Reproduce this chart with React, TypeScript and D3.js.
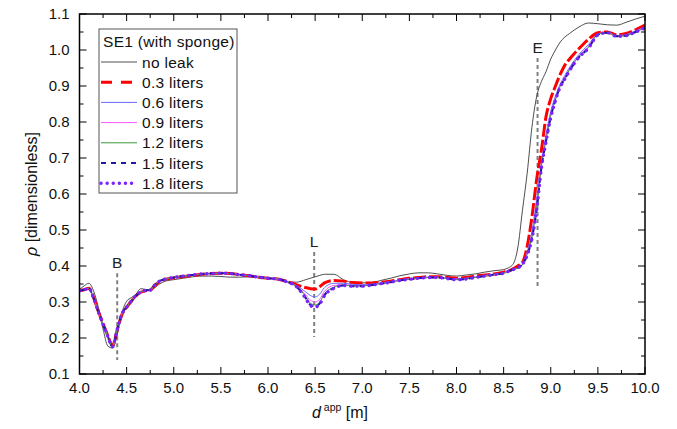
import React from "react";
import * as d3 from "d3";

// apparent distance grid [m]
const dApp = [
  4.0, 4.05, 4.1, 4.15, 4.2, 4.25, 4.3, 4.35, 4.4, 4.45, 4.5, 4.55, 4.6, 4.65, 4.7, 4.75, 4.8, 4.85, 4.9,
  5.0, 5.1, 5.2, 5.3, 5.4, 5.5, 5.6, 5.7, 5.8, 5.9, 6.0, 6.1, 6.2, 6.3, 6.4,
  6.45, 6.5, 6.55, 6.6,
  6.7, 6.8, 6.9, 7.0, 7.1, 7.2, 7.3, 7.4, 7.5, 7.6, 7.7, 7.8, 7.9, 8.0, 8.1, 8.2, 8.3, 8.4, 8.5,
  8.55, 8.6, 8.65, 8.7, 8.75, 8.8, 8.85, 8.9, 8.95, 9.0, 9.05, 9.1, 9.15, 9.2,
  9.3, 9.4, 9.5, 9.6, 9.7, 9.8, 9.9, 10.0,
];

const noLeak = [
  0.335, 0.345, 0.352, 0.33, 0.285, 0.225, 0.178, 0.172, 0.21, 0.27, 0.302, 0.312, 0.322, 0.337, 0.335, 0.333, 0.34, 0.35, 0.357,
  0.362, 0.366, 0.37, 0.372, 0.372, 0.371, 0.369, 0.369, 0.37, 0.369, 0.366, 0.362, 0.357, 0.355, 0.362,
  0.366, 0.37, 0.374, 0.377,
  0.377, 0.362, 0.354, 0.353, 0.354, 0.36, 0.366, 0.373, 0.378, 0.381, 0.381, 0.378, 0.374, 0.372, 0.375, 0.378, 0.383, 0.387, 0.39,
  0.395, 0.405, 0.45, 0.555, 0.658, 0.785, 0.87, 0.912, 0.94, 0.975, 1.0, 1.022, 1.036, 1.046,
  1.064, 1.075, 1.073, 1.07, 1.069, 1.077, 1.086, 1.094,
];

const leak03 = [
  0.332, 0.334, 0.338, 0.312, 0.274, 0.24, 0.207, 0.178, 0.222, 0.265, 0.285, 0.302, 0.317, 0.327, 0.331, 0.333, 0.346, 0.356, 0.362,
  0.367, 0.371, 0.374, 0.377, 0.379, 0.38, 0.379, 0.376, 0.373, 0.369, 0.366, 0.364, 0.357, 0.348, 0.34,
  0.337, 0.336, 0.343, 0.353,
  0.36, 0.358, 0.354, 0.353, 0.353, 0.355, 0.358, 0.362, 0.366, 0.368, 0.37, 0.37, 0.368, 0.366, 0.368, 0.372, 0.375, 0.378, 0.383,
  0.386, 0.392, 0.4, 0.41, 0.455, 0.535, 0.64, 0.72, 0.815, 0.865, 0.9, 0.932, 0.958, 0.975,
  1.004, 1.03, 1.048, 1.05, 1.042, 1.046, 1.056, 1.069,
];

const leak06 = [
  0.331, 0.334, 0.338, 0.31, 0.272, 0.238, 0.205, 0.176, 0.224, 0.267, 0.286, 0.303, 0.318, 0.328, 0.332, 0.333, 0.348, 0.358, 0.363,
  0.368, 0.372, 0.375, 0.378, 0.379, 0.38, 0.379, 0.376, 0.373, 0.369, 0.366, 0.364, 0.356, 0.346, 0.328,
  0.318, 0.314, 0.322, 0.34,
  0.352, 0.352, 0.349, 0.348, 0.35, 0.353, 0.357, 0.361, 0.365, 0.367, 0.369, 0.369, 0.366, 0.364, 0.366, 0.37, 0.374, 0.377, 0.381,
  0.385, 0.39, 0.394, 0.404, 0.44, 0.495, 0.585, 0.685, 0.765, 0.83, 0.872, 0.905, 0.93, 0.952,
  0.988, 1.015, 1.045, 1.049, 1.04, 1.043, 1.053, 1.064,
];

const leak09 = [
  0.331, 0.334, 0.338, 0.31, 0.272, 0.238, 0.205, 0.176, 0.224, 0.267, 0.286, 0.303, 0.318, 0.328, 0.332, 0.333, 0.348, 0.358, 0.363,
  0.368, 0.372, 0.375, 0.378, 0.379, 0.38, 0.379, 0.376, 0.373, 0.369, 0.366, 0.364, 0.356, 0.345, 0.32,
  0.305, 0.3, 0.308, 0.33,
  0.346, 0.348, 0.346, 0.346, 0.348, 0.352, 0.356, 0.36, 0.364, 0.366, 0.368, 0.368, 0.365, 0.363, 0.365, 0.369, 0.373, 0.376, 0.38,
  0.385, 0.39, 0.394, 0.404, 0.435, 0.485, 0.57, 0.678, 0.756, 0.822, 0.866, 0.901, 0.925, 0.948,
  0.984, 1.01, 1.044, 1.048, 1.039, 1.041, 1.051, 1.062,
];

const leak12 = [
  0.331, 0.334, 0.338, 0.31, 0.272, 0.238, 0.205, 0.176, 0.224, 0.267, 0.286, 0.303, 0.318, 0.328, 0.332, 0.333, 0.348, 0.358, 0.363,
  0.368, 0.372, 0.375, 0.378, 0.379, 0.38, 0.379, 0.376, 0.373, 0.369, 0.366, 0.364, 0.356, 0.344, 0.315,
  0.297, 0.292, 0.3, 0.323,
  0.341, 0.347, 0.345, 0.345, 0.347, 0.351, 0.355, 0.36, 0.363, 0.366, 0.368, 0.368, 0.365, 0.362, 0.364, 0.368, 0.372, 0.376, 0.38,
  0.385, 0.39, 0.395, 0.405, 0.432, 0.48, 0.562, 0.674, 0.75, 0.817, 0.863, 0.899, 0.922, 0.946,
  0.982, 1.007, 1.043, 1.048, 1.038, 1.04, 1.05, 1.061,
];

const leak15 = [
  0.331, 0.334, 0.338, 0.31, 0.272, 0.238, 0.205, 0.176, 0.224, 0.267, 0.286, 0.303, 0.318, 0.328, 0.332, 0.333, 0.348, 0.358, 0.363,
  0.368, 0.372, 0.375, 0.378, 0.379, 0.38, 0.379, 0.376, 0.373, 0.369, 0.366, 0.364, 0.356, 0.343, 0.311,
  0.292, 0.288, 0.296, 0.319,
  0.339, 0.346, 0.344, 0.344, 0.347, 0.351, 0.355, 0.36, 0.363, 0.366, 0.368, 0.368, 0.365, 0.362, 0.364, 0.368, 0.372, 0.376, 0.38,
  0.385, 0.39, 0.395, 0.405, 0.43, 0.476, 0.556, 0.671, 0.746, 0.813, 0.861, 0.897, 0.92, 0.943,
  0.98, 1.005, 1.042, 1.048, 1.038, 1.04, 1.05, 1.061,
];

const leak18 = [
  0.331, 0.334, 0.338, 0.31, 0.272, 0.238, 0.205, 0.176, 0.224, 0.267, 0.286, 0.303, 0.318, 0.328, 0.332, 0.333, 0.348, 0.358, 0.363,
  0.368, 0.372, 0.375, 0.378, 0.379, 0.38, 0.379, 0.376, 0.373, 0.369, 0.366, 0.364, 0.356, 0.343, 0.31,
  0.29, 0.286, 0.295, 0.318,
  0.338, 0.346, 0.344, 0.344, 0.347, 0.351, 0.355, 0.36, 0.363, 0.366, 0.368, 0.368, 0.365, 0.362, 0.364, 0.368, 0.372, 0.376, 0.38,
  0.385, 0.39, 0.395, 0.405, 0.43, 0.475, 0.555, 0.67, 0.745, 0.812, 0.86, 0.897, 0.92, 0.943,
  0.98, 1.005, 1.042, 1.048, 1.038, 1.04, 1.05, 1.061,
];

const seriesLabels = ["no leak", "0.3 liters", "0.6 liters", "0.9 liters", "1.2 liters", "1.5 liters", "1.8 liters"];
const seriesValues = [noLeak, leak03, leak06, leak09, leak12, leak15, leak18];
const seriesStyles = [
  { color: "#3a3a3a", width: 0.9, dash: "", legendDash: "", cap: "butt" },
  { color: "#ff0000", width: 3, dash: "13,3", legendDash: "11,9", cap: "butt" },
  { color: "#6b6bff", width: 1, dash: "", legendDash: "", cap: "butt" },
  { color: "#ff55ff", width: 1, dash: "", legendDash: "", cap: "butt" },
  { color: "#3d9a3d", width: 1, dash: "", legendDash: "", cap: "butt" },
  { color: "#1c1c9c", width: 2, dash: "5,5", legendDash: "5,5", cap: "butt" },
  { color: "#7a22ff", width: 3.4, dash: "0.1,6", legendDash: "0.1,6", cap: "round" },
];

// event markers: label, position [m], dashed line extent
const markerLabels = ["B", "L", "E"];
const markerPos = [4.4, 6.49, 8.86];
const markerTop = [0.38, 0.439, 0.978];
const markerBottom = [0.139, 0.203, 0.342];

const xTicks = [4.0, 4.5, 5.0, 5.5, 6.0, 6.5, 7.0, 7.5, 8.0, 8.5, 9.0, 9.5, 10.0];
const yTicks = [0.1, 0.2, 0.3, 0.4, 0.5, 0.6, 0.7, 0.8, 0.9, 1.0, 1.1];

const W = 677;
const H = 429;
const left = 79.5;
const right = 645;
const top = 14;
const bottom = 374;
const font = "'Liberation Sans', Arial, Helvetica, sans-serif";

export default function App() {
  const x = d3.scaleLinear().domain([4, 10]).range([left, right]);
  const y = d3.scaleLinear().domain([0.1, 1.1]).range([bottom, top]);

  const line = d3
    .line<number>()
    .x((d, i) => x(dApp[i]))
    .y((d) => y(d))
    .curve(d3.curveMonotoneX);

  const xMinor = d3.range(4.25, 10, 0.5);
  const yMinor = d3.range(0.15, 1.1, 0.1);

  const legX = 99;
  const legY = 29;

  return (
    <div style={{ position: "absolute", left: 0, top: 0 }}>
      <svg width={W} height={H} style={{ display: "block", background: "#fff" }}>
        <defs>
          <clipPath id="plotClip">
            <rect x={left} y={top} width={right - left} height={bottom - top} />
          </clipPath>
        </defs>

        {/* marker lines */}
        {markerPos.map((p, i) => (
          <g key={markerLabels[i]}>
            <line
              x1={x(p)}
              x2={x(p)}
              y1={y(markerTop[i])}
              y2={y(markerBottom[i])}
              stroke="#808080"
              strokeWidth={2}
              strokeDasharray="4,3"
            />
            <text
              x={x(p)}
              y={y(markerTop[i]) - 5}
              textAnchor="middle"
              fontFamily={font}
              fontSize={15.5}
              fill="#222"
            >
              {markerLabels[i]}
            </text>
          </g>
        ))}

        {/* series */}
        <g clipPath="url(#plotClip)">
          {seriesValues.map((vals, i) => (
            <path
              key={seriesLabels[i]}
              d={line(vals) || ""}
              fill="none"
              stroke={seriesStyles[i].color}
              strokeWidth={seriesStyles[i].width}
              strokeDasharray={seriesStyles[i].dash || undefined}
              strokeLinecap={seriesStyles[i].cap as any}
              strokeLinejoin="round"
            />
          ))}
        </g>

        {/* frame */}
        <rect x={left} y={top} width={right - left} height={bottom - top} fill="none" stroke="#000" strokeWidth={1.5} />

        {/* x ticks */}
        {xTicks.map((t) => (
          <g key={"xt" + t}>
            <line x1={x(t)} x2={x(t)} y1={bottom} y2={bottom - 7} stroke="#000" strokeWidth={1} />
            <line x1={x(t)} x2={x(t)} y1={top} y2={top + 7} stroke="#000" strokeWidth={1} />
            <text x={x(t)} y={bottom + 19} textAnchor="middle" fontFamily={font} fontSize={15} fill="#111">
              {t.toFixed(1)}
            </text>
          </g>
        ))}
        {xMinor.map((t) => (
          <g key={"xm" + t}>
            <line x1={x(t)} x2={x(t)} y1={bottom} y2={bottom - 4} stroke="#000" strokeWidth={1} />
            <line x1={x(t)} x2={x(t)} y1={top} y2={top + 4} stroke="#000" strokeWidth={1} />
          </g>
        ))}

        {/* y ticks */}
        {yTicks.map((t) => (
          <g key={"yt" + t}>
            <line x1={left} x2={left + 7} y1={y(t)} y2={y(t)} stroke="#000" strokeWidth={1} />
            <line x1={right} x2={right - 7} y1={y(t)} y2={y(t)} stroke="#000" strokeWidth={1} />
            <text x={left - 10} y={y(t) + 5} textAnchor="end" fontFamily={font} fontSize={15} fill="#111">
              {t.toFixed(1)}
            </text>
          </g>
        ))}
        {yMinor.map((t) => (
          <g key={"ym" + t}>
            <line x1={left} x2={left + 4} y1={y(t)} y2={y(t)} stroke="#000" strokeWidth={1} />
            <line x1={right} x2={right - 4} y1={y(t)} y2={y(t)} stroke="#000" strokeWidth={1} />
          </g>
        ))}

        {/* axis titles */}
        <text x={340} y={418} textAnchor="middle" fontFamily={font} fontSize={16} fill="#111">
          <tspan fontStyle="italic">d</tspan>
          <tspan fontSize={10.5} dy={-7}> app</tspan>
          <tspan dy={7}> [m]</tspan>
        </text>
        <text
          transform={`translate(37, ${(top + bottom) / 2}) rotate(-90)`}
          textAnchor="middle"
          fontFamily={font}
          fontSize={16}
          fill="#111"
        >
          <tspan fontStyle="italic">ρ</tspan>
          <tspan> [dimensionless]</tspan>
        </text>

        {/* legend */}
        <rect x={legX} y={legY} width={138} height={164} fill="#fff" stroke="#555" strokeWidth={1} />
        <text x={legX + 4} y={legY + 18} fontFamily={font} fontSize={15.5} letterSpacing={0.3} fill="#111">
          SE1 (with sponge)
        </text>
        {seriesLabels.map((lab, i) => {
          const ly = legY + 33 + i * 20.2;
          const s = seriesStyles[i];
          return (
            <g key={"leg" + lab}>
              <line
                x1={legX + 2}
                x2={legX + 38}
                y1={ly}
                y2={ly}
                stroke={s.color}
                strokeWidth={s.width}
                strokeDasharray={s.legendDash || undefined}
                strokeLinecap={s.cap as any}
              />
              <text x={legX + 43} y={ly + 5.5} fontFamily={font} fontSize={15.5} letterSpacing={0.3} fill="#111">
                {lab}
              </text>
            </g>
          );
        })}
      </svg>
    </div>
  );
}
